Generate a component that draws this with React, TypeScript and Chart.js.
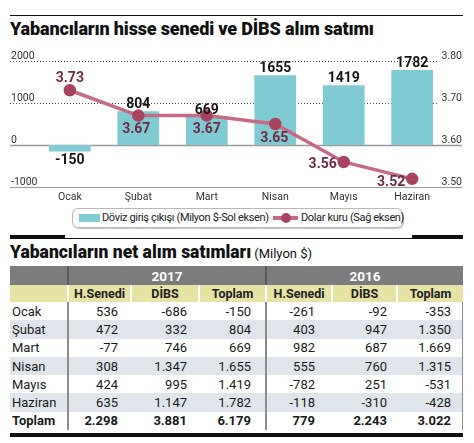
import React, { useEffect, useRef } from "react";
import { Chart, registerables } from "chart.js";

Chart.register(...registerables);

const months = ["Ocak", "Şubat", "Mart", "Nisan", "Mayıs", "Haziran"];
const flows = [-150, 804, 669, 1655, 1419, 1782];
const usd = [3.73, 3.67, 3.67, 3.65, 3.56, 3.52];
const leftTicks = [-1000, 0, 1000, 2000];
const rightTicks = [3.5, 3.6, 3.7, 3.8];

const tableRows = ["Ocak", "Şubat", "Mart", "Nisan", "Mayıs", "Haziran", "Toplam"];
const hisse2017 = ["536", "472", "-77", "308", "424", "635", "2.298"];
const dibs2017 = ["-686", "332", "746", "1.347", "995", "1.147", "3.881"];
const toplam2017 = ["-150", "804", "669", "1.655", "1.419", "1.782", "6.179"];
const hisse2016 = ["-261", "403", "982", "555", "-782", "-118", "779"];
const dibs2016 = ["-92", "947", "687", "760", "251", "-310", "2.243"];
const toplam2016 = ["-353", "1.350", "1.669", "1.315", "-531", "-428", "3.022"];
const years = ["2017", "2016"];
const colHeads = ["H.Senedi", "DİBS", "Toplam", "H.Senedi", "DİBS", "Toplam"];

const BAR = "#7fcad3";
const LINE = "#c86a84";
const POINT = "#a8445f";
const LINE_LABEL = "#6e2a44";
const FONT = "Roboto, 'Noto Sans', sans-serif";

const lineLabelOffsets = [
  [0, -12],
  [-2, 14],
  [0, 14],
  [-1, 14],
  [-21, 3],
  [-21, 4],
];

const drawPlugin = {
  id: "customDraw",
  beforeDatasetsDraw(chart: any) {
    const ctx = chart.ctx;
    const y = chart.scales.y;
    const y1 = chart.scales.y1;
    ctx.save();
    leftTicks.forEach((v) => {
      const py = Math.round(y.getPixelForValue(v)) + 0.5;
      ctx.beginPath();
      if (v > 0) {
        ctx.setLineDash([1, 2]);
        ctx.strokeStyle = "#555";
        ctx.lineWidth = 1;
        ctx.moveTo(10, py);
        ctx.lineTo(439, py);
      } else {
        ctx.setLineDash([]);
        ctx.strokeStyle = "#9a9a9a";
        ctx.lineWidth = v === 0 ? 1.6 : 1.2;
        ctx.moveTo(10, py);
        ctx.lineTo(462, py);
      }
      ctx.stroke();
      ctx.setLineDash([]);
      ctx.fillStyle = "#333";
      ctx.font = `10.5px ${FONT}`;
      ctx.textAlign = "left";
      ctx.textBaseline = "alphabetic";
      ctx.fillText(String(v), 11, py - 3);
    });
    rightTicks.forEach((v) => {
      const py = Math.round(y1.getPixelForValue(v)) + 0.5;
      ctx.fillStyle = "#333";
      ctx.font = `10.5px ${FONT}`;
      ctx.textAlign = "right";
      ctx.textBaseline = "alphabetic";
      ctx.fillText(v.toFixed(2), 462, py - 3);
    });
    ctx.restore();
  },
  afterDatasetsDraw(chart: any) {
    const ctx = chart.ctx;
    const x = chart.scales.x;
    const y = chart.scales.y;
    ctx.save();
    ctx.fillStyle = "#333";
    ctx.font = `10.5px ${FONT}`;
    ctx.textAlign = "center";
    ctx.textBaseline = "middle";
    months.forEach((m, i) => {
      ctx.fillText(m, x.getPixelForValue(i), y.bottom + 10);
    });
    const barMeta = chart.getDatasetMeta(1);
    ctx.font = `bold 14px ${FONT}`;
    ctx.fillStyle = "#161616";
    barMeta.data.forEach((el: any, i: number) => {
      const v = flows[i];
      if (v >= 0) {
        ctx.textBaseline = "alphabetic";
        ctx.fillText(String(v), el.x, el.y - 3);
      } else {
        ctx.textBaseline = "top";
        ctx.fillText(String(v), el.x, el.y + 2);
      }
    });
    const lineMeta = chart.getDatasetMeta(0);
    ctx.fillStyle = LINE_LABEL;
    ctx.textBaseline = "middle";
    lineMeta.data.forEach((el: any, i: number) => {
      const [dx, dy] = lineLabelOffsets[i];
      ctx.fillText(usd[i].toFixed(2), el.x + dx, el.y + dy);
    });
    ctx.restore();
  },
};

function ChartBox() {
  const ref = useRef<HTMLCanvasElement>(null);
  useEffect(() => {
    if (!ref.current) return;
    const chart = new Chart(ref.current, {
      type: "bar",
      data: {
        labels: months,
        datasets: [
          {
            type: "line",
            label: "Dolar kuru (Sağ eksen)",
            data: usd,
            yAxisID: "y1",
            borderColor: LINE,
            borderWidth: 3.5,
            pointBackgroundColor: POINT,
            pointBorderColor: POINT,
            pointRadius: 4.5,
            order: 0,
          } as any,
          {
            type: "bar",
            label: "Döviz giriş çıkışı (Milyon $-Sol eksen)",
            data: flows,
            yAxisID: "y",
            backgroundColor: BAR,
            barPercentage: 0.61,
            categoryPercentage: 1,
            order: 1,
          },
        ],
      },
      options: {
        animation: false,
        responsive: false,
        maintainAspectRatio: false,
        layout: { padding: { left: 35.6, right: 27.6, top: 20.7, bottom: 18.7 } },
        plugins: { legend: { display: false }, tooltip: { enabled: false } },
        scales: {
          x: { display: false, offset: true },
          y: { display: false, min: -1000, max: 2000 },
          y1: { display: false, min: 3.5, max: 3.8, position: "right" },
        },
      },
      plugins: [drawPlugin],
    });
    return () => chart.destroy();
  }, []);
  return (
    <canvas
      ref={ref}
      width={474}
      height={166}
      style={{ position: "absolute", left: 0, top: 40, width: 474, height: 166 }}
    />
  );
}

const colWidths = [59, 63, 68, 67, 66, 65, 65];
const padRight = [0, 14, 13, 14, 18, 11, 11];

function DataTable() {
  const cols = [hisse2017, dibs2017, toplam2017, hisse2016, dibs2016, toplam2016];
  const grid = colWidths.map((w) => `${w}px`).join(" ");
  const sepStyle = (ci: number): React.CSSProperties => {
    if (ci === 0 || ci === 3) return { borderRight: "2px solid #8c8c8c" };
    if (ci === 6) return { borderRight: "1.5px solid #8c8c8c" };
    return {};
  };
  return (
    <div style={{ position: "absolute", left: 10, top: 266, width: 453, fontFamily: FONT }}>
      <div style={{ display: "grid", gridTemplateColumns: `59px 198px 196px`, height: 19, background: "#7c7c7c" }}>
        <div style={{ borderRight: "2px solid #5a5a5a" }} />
        {years.map((yr, i) => (
          <div
            key={yr}
            style={{
              color: "#fff",
              fontWeight: 700,
              fontSize: 13.5,
              display: "flex",
              alignItems: "center",
              justifyContent: "center",
              borderRight: i === 0 ? "2px solid #5a5a5a" : "none",
            }}
          >
            {yr}
          </div>
        ))}
      </div>
      <div style={{ display: "grid", gridTemplateColumns: grid, height: 17, background: "#e6e3a4" }}>
        <div style={{ borderRight: "2px solid #fff" }} />
        {colHeads.map((h, i) => (
          <div
            key={i}
            style={{
              fontWeight: 700,
              fontSize: 12.5,
              color: "#222",
              display: "flex",
              alignItems: "center",
              justifyContent: "center",
              borderRight: i < 5 ? "2px solid #fff" : "none",
            }}
          >
            {h}
          </div>
        ))}
      </div>
      {tableRows.map((r, ri) => (
        <div
          key={r}
          style={{
            display: "grid",
            gridTemplateColumns: grid,
            height: 18.3,
            background: ri % 2 === 1 ? "#dfe5ea" : "#fff",
            fontWeight: ri === 6 ? 700 : 400,
            fontSize: 13,
            color: "#1a1a1a",
          }}
        >
          <div style={{ display: "flex", alignItems: "center", paddingLeft: 2, ...sepStyle(0) }}>{r}</div>
          {cols.map((c, ci) => (
            <div
              key={ci}
              style={{
                display: "flex",
                alignItems: "center",
                justifyContent: "flex-end",
                paddingRight: padRight[ci + 1],
                ...sepStyle(ci + 1),
              }}
            >
              {c[ri]}
            </div>
          ))}
        </div>
      ))}
    </div>
  );
}

const legendText: React.CSSProperties = {
  position: "absolute",
  top: 0,
  height: 18,
  lineHeight: "18px",
  fontSize: 11,
  letterSpacing: -0.35,
  color: "#222",
  whiteSpace: "nowrap",
};

export default function App() {
  return (
    <div
      style={{
        position: "fixed",
        left: 0,
        top: 0,
        width: 474,
        height: 443,
        background: "#fff",
        overflow: "hidden",
        fontFamily: FONT,
        boxSizing: "border-box",
      }}
    >
      <div style={{ position: "absolute", left: 10, top: 14.5, width: 453, height: 1, background: "#111" }} />
      <div
        style={{
          position: "absolute",
          left: 10,
          top: 18,
          fontWeight: 900,
          fontSize: 18,
          letterSpacing: -0.15,
          color: "#111",
          whiteSpace: "nowrap",
        }}
      >
        Yabancıların hisse senedi ve DİBS alım satımı
      </div>
      <ChartBox />
      <div
        style={{
          position: "absolute",
          left: 72,
          top: 208,
          width: 331,
          height: 20,
          boxSizing: "border-box",
          border: "1px solid #b8b8b8",
          borderRadius: 6,
          boxShadow: "1px 1px 1px rgba(0,0,0,0.25)",
        }}
      >
        <span style={{ position: "absolute", left: 6, top: 5, width: 21, height: 8, background: BAR }} />
        <span style={{ ...legendText, left: 29 }}>Döviz giriş çıkışı (Milyon $-Sol eksen)</span>
        <span style={{ position: "absolute", left: 200, top: 7, width: 25, height: 4, background: LINE }} />
        <span
          style={{ position: "absolute", left: 207.5, top: 4, width: 10, height: 10, borderRadius: 5, background: POINT }}
        />
        <span style={{ ...legendText, left: 228 }}>Dolar kuru (Sağ eksen)</span>
      </div>
      <div style={{ position: "absolute", left: 10, top: 237.5, width: 453, height: 1, background: "#111" }} />
      <div style={{ position: "absolute", left: 10, top: 235, width: 55, height: 3, background: "#111" }} />
      <div style={{ position: "absolute", left: 412, top: 235, width: 51, height: 3, background: "#111" }} />
      <div
        style={{
          position: "absolute",
          left: 10,
          top: 242,
          whiteSpace: "nowrap",
          color: "#111",
        }}
      >
        <span style={{ fontWeight: 900, fontSize: 17.5, letterSpacing: 0 }}>Yabancıların net alım satımları</span>
        <span style={{ fontSize: 13, marginLeft: 3 }}>(Milyon $)</span>
      </div>
      <DataTable />
      <div style={{ position: "absolute", left: 10, top: 433, width: 453, height: 4, background: "#111" }} />
    </div>
  );
}
